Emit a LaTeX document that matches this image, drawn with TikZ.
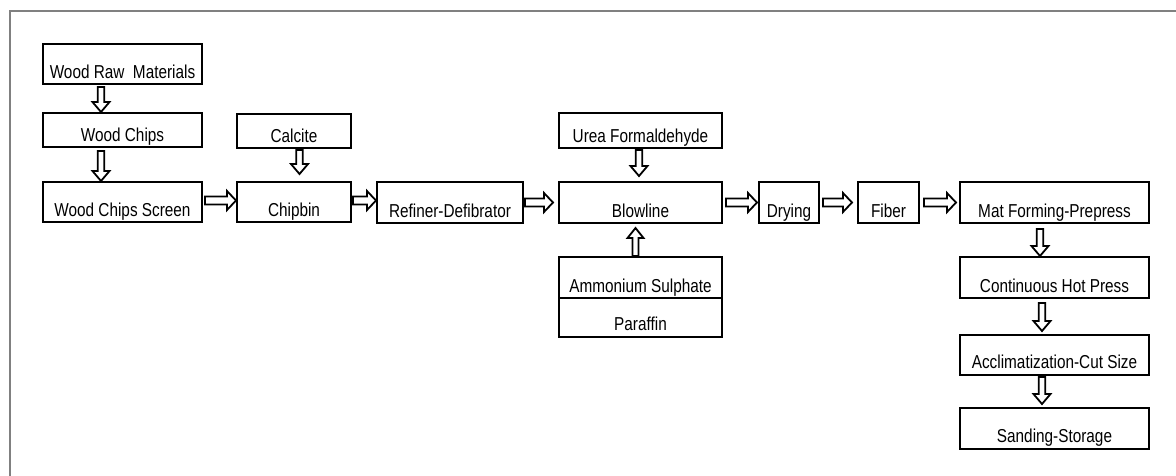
\documentclass[tikz,border=0pt]{standalone}
\usepackage{fontspec}
\setmainfont{Liberation Sans}[FakeStretch=0.82]
\usetikzlibrary{calc}
\tikzset{
  bx/.style n args={3}{draw, line width=2pt, inner sep=0pt, minimum width=#1,
     text height=#2, text depth=#3, font=\fontsize{18.7}{22}\selectfont},
  blockarrow/.style={draw, line width=1.8pt, fill=white, line join=miter},
  frame/.style={draw=black!50, line width=2pt}
}
% right-pointing hollow arrow from #1 to the x of #2
\newcommand\rarrow[2]{\path[blockarrow] let \p1=(#1), \p2=(#2) in
  (\x1,\y1-4pt) -- (\x2-9pt,\y1-4pt) -- (\x2-9pt,\y1-9.5pt) -- (\x2,\y1)
  -- (\x2-9pt,\y1+9.5pt) -- (\x2-9pt,\y1+4pt) -- (\x1,\y1+4pt) -- cycle;}
% down-pointing hollow arrow from #1 to the y of #2
\newcommand\darrow[2]{\path[blockarrow] let \p1=(#1), \p2=(#2) in
  (\x1-3.2pt,\y1) -- (\x1-3.2pt,\y2+10pt) -- (\x1-8.5pt,\y2+10pt) -- (\x1,\y2)
  -- (\x1+8.5pt,\y2+10pt) -- (\x1+3.2pt,\y2+10pt) -- (\x1+3.2pt,\y1) -- cycle;}
% up-pointing hollow arrow from #1 to the y of #2
\newcommand\uarrow[2]{\path[blockarrow] let \p1=(#1), \p2=(#2) in
  (\x1-3pt,\y1) -- (\x1-3pt,\y2-10pt) -- (\x1-8pt,\y2-10pt) -- (\x1,\y2)
  -- (\x1+8pt,\y2-10pt) -- (\x1+3pt,\y2-10pt) -- (\x1+3pt,\y1) -- cycle;}
\begin{document}
\begin{tikzpicture}[x=1pt,y=-1pt]
\useasboundingbox (0,0) rectangle (1176,475);
\coordinate (fbl) at (10,476);
\coordinate (ftl) at (10,11);
\coordinate (ftr) at (1177,11);
\draw[frame] (fbl) -- (ftl) -- (ftr);

\node[bx={159pt}{34pt}{6pt}] (wrm) at (122.5,64) {Wood Raw~ Materials};
\node[bx={159pt}{28pt}{6pt}] (wc) at (122.5,130) {Wood Chips};
\node[bx={159pt}{34pt}{6pt}] (wcs) at (122.5,202) {Wood Chips Screen};
\node[bx={114pt}{28pt}{6pt}] (calcite) at (294,131) {Calcite};
\node[bx={114pt}{34pt}{6pt}] (chipbin) at (294,202) {Chipbin};
\node[bx={146pt}{35pt}{6pt}] (refiner) at (450,202.5) {Refiner-Defibrator};
\node[bx={163pt}{29pt}{6pt}] (urea) at (640.5,130.5) {Urea Formaldehyde};
\node[bx={163pt}{35pt}{6pt}] (blow) at (640.5,202.5) {Blowline};
\node[bx={163pt}{35pt}{6pt}] (amm) at (640.5,277.5) {Ammonium Sulphate};
\node[bx={163pt}{32pt}{7pt}] (par) at (640.5,317.5) {Paraffin};
\node[bx={60pt}{35pt}{6pt}] (dry) at (789,202.5) {Drying};
\node[bx={61pt}{35pt}{6pt}] (fiber) at (888.5,202.5) {Fiber};
\node[bx={189pt}{35pt}{6pt}] (mat) at (1054.5,202.5) {Mat Forming-Prepress};
\node[bx={189pt}{35pt}{6pt}] (chp) at (1054.5,277.5) {Continuous Hot Press};
\node[bx={189pt}{33pt}{7pt}] (accl) at (1054.5,355) {Acclimatization-Cut Size};
\node[bx={189pt}{34pt}{7pt}] (sand) at (1054.5,428.5) {Sanding-Storage};

% vertical arrows
\darrow{$(wrm.south)+(-21.5,2)$}{wc.north}
\darrow{$(wc.south)+(-21.5,3)$}{wcs.north}
\darrow{$(calcite.south)+(5.5,1)$}{$(chipbin.north)+(0,-7)$}
\darrow{$(urea.south)+(-1.5,1)$}{$(blow.north)+(0,-5)$}
\uarrow{$(amm.north)+(-5,0)$}{$(blow.south)+(0,4)$}
\darrow{$(mat.south)+(-14.5,5)$}{chp.north}
\darrow{$(chp.south)+(-12.5,4)$}{$(accl.north)+(0,-3)$}
\darrow{$(accl.south)+(-12.5,1)$}{$(sand.north)+(0,-3)$}

% horizontal arrows
\rarrow{$(wcs.east)+(2,-1.5)$}{chipbin.west}
\rarrow{$(chipbin.east)+(1,-1.5)$}{refiner.west}
\rarrow{$(refiner.east)+(1,0)$}{$(blow.west)+(-5,0)$}
\rarrow{$(blow.east)+(3,0)$}{$(dry.west)+(-1,0)$}
\rarrow{$(dry.east)+(3,0)$}{$(fiber.west)+(-5,0)$}
\rarrow{$(fiber.east)+(4,0)$}{$(mat.west)+(-3,0)$}
\end{tikzpicture}
\end{document}
